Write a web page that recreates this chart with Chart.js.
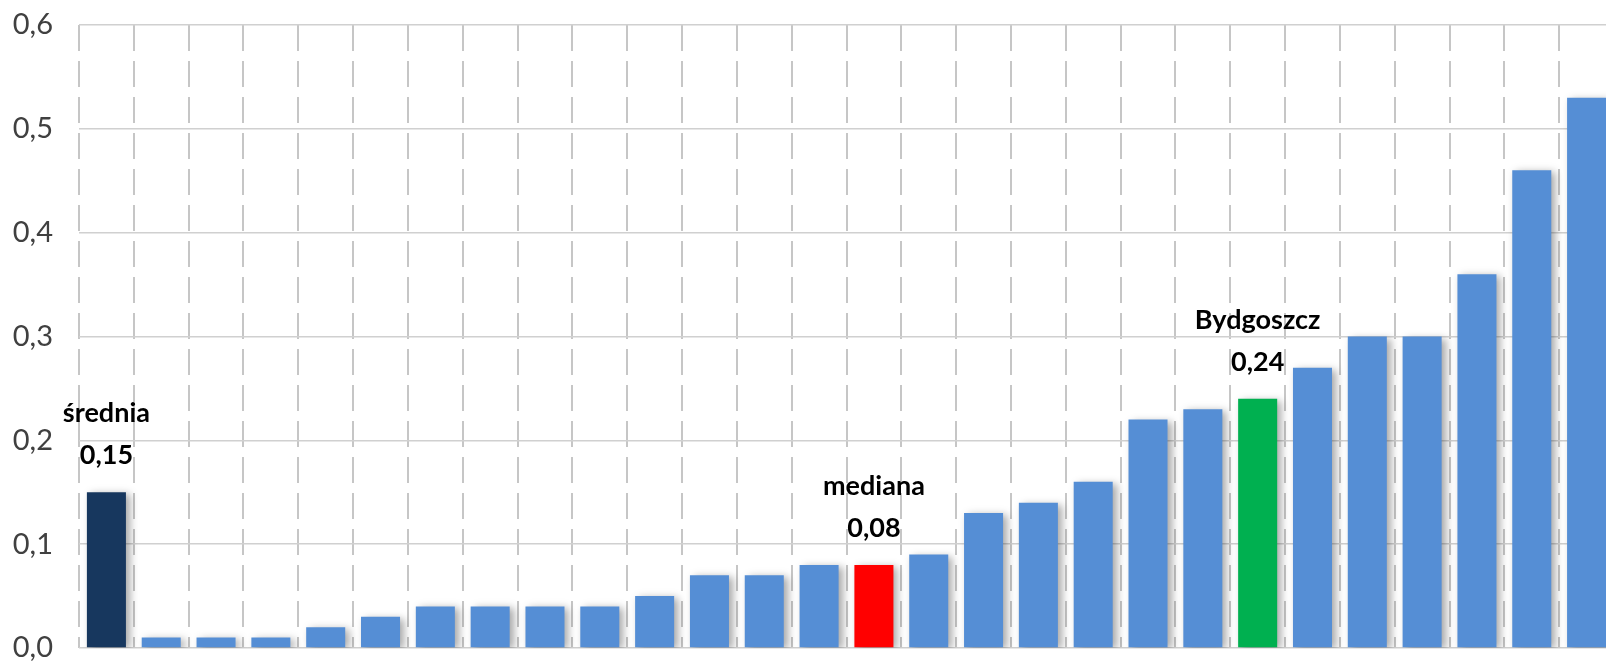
<!DOCTYPE html>
<html><head><meta charset="utf-8">
<script src="https://cdn.jsdelivr.net/npm/chart.js"></script>
<style>html,body{margin:0;padding:0;overflow:hidden;background:#fff}#wrap{width:1614px;height:661px}</style>
</head><body><div id="wrap"><canvas id="c" width="1614" height="661"></canvas></div>
<script>
const categories = ['średnia','Miasto 1','Miasto 2','Miasto 3','Miasto 4','Miasto 5','Miasto 6','Miasto 7','Miasto 8','Miasto 9','Miasto 10','Miasto 11','Miasto 12','Miasto 13','mediana','Miasto 14','Miasto 15','Miasto 16','Miasto 17','Miasto 18','Miasto 19','Bydgoszcz','Miasto 20','Miasto 21','Miasto 22','Miasto 23','Miasto 24','Miasto 25'];
const values = [0.15,0.01,0.01,0.01,0.02,0.03,0.04,0.04,0.04,0.04,0.05,0.07,0.07,0.08,0.08,0.09,0.13,0.14,0.16,0.22,0.23,0.24,0.27,0.30,0.30,0.36,0.46,0.53];
const yTicks = [0,0.1,0.2,0.3,0.4,0.5,0.6];
const annotatedCategories = ['średnia','mediana','Bydgoszcz'];
const annotatedColors = ['#17375E','#FF0000','#00B050'];
const defaultColor = '#558ED5';

const colors = categories.map(c => {
  const k = annotatedCategories.indexOf(c);
  return k >= 0 ? annotatedColors[k] : defaultColor;
});
const fmt = (v, d) => v.toFixed(d).replace('.', ',');

const shadowPlugin = {
  id: 'barShadow',
  beforeDatasetsDraw(chart) {
    const c = chart.ctx; c.save();
    c.shadowColor = 'rgba(0,0,0,0.35)';
    c.shadowBlur = 8; c.shadowOffsetX = 4; c.shadowOffsetY = 2;
  },
  afterDatasetsDraw(chart) { chart.ctx.restore(); }
};
const labelPlugin = {
  id: 'annot',
  afterDatasetsDraw(chart) {
    const c = chart.ctx;
    const meta = chart.getDatasetMeta(0);
    c.save();
    c.fillStyle = '#000';
    c.font = 'bold 27px Lato';
    c.textAlign = 'center';
    c.textBaseline = 'alphabetic';
    annotatedCategories.forEach(name => {
      const i = categories.indexOf(name);
      const bar = meta.data[i];
      c.fillText(fmt(values[i], 2), bar.x, bar.y - 28);
      c.fillText(name, bar.x, bar.y - 70);
    });
    c.restore();
  }
};

new Chart(document.getElementById('c'), {
  type: 'bar',
  data: { labels: categories, datasets: [{ data: values, backgroundColor: colors, borderWidth: 0, barPercentage: 0.712, categoryPercentage: 1 }] },
  options: {
    responsive: false, animation: false,
    plugins: { legend: { display: false }, tooltip: { enabled: false } },
    layout: { padding: { top: 25, bottom: 13, left: 0, right: 0 } },
    scales: {
      x: {
        ticks: { display: false },
        grid: { color: '#c6c6c6', lineWidth: 2, drawTicks: false, offset: true },
        border: { display: false, dash: [26, 10] },
        afterFit(s) { s.height = 0; s.paddingTop = 0; s.paddingBottom = 0; s.paddingLeft = 0; s.paddingRight = 0; }
      },
      y: {
        min: 0, max: 0.6,
        afterBuildTicks(s) { s.ticks = yTicks.map(v => ({ value: v })); },
        ticks: { callback: v => fmt(v, 1), color: '#404040', font: { family: 'Lato', size: 29 }, padding: 26 },
        grid: { color: '#d0d0d0', lineWidth: 1.5, drawTicks: false },
        border: { display: false },
        afterFit(s) { s.width = 79; s.paddingTop = 0; s.paddingBottom = 0; }
      }
    }
  },
  plugins: [shadowPlugin, labelPlugin]
});
</script></body></html>
